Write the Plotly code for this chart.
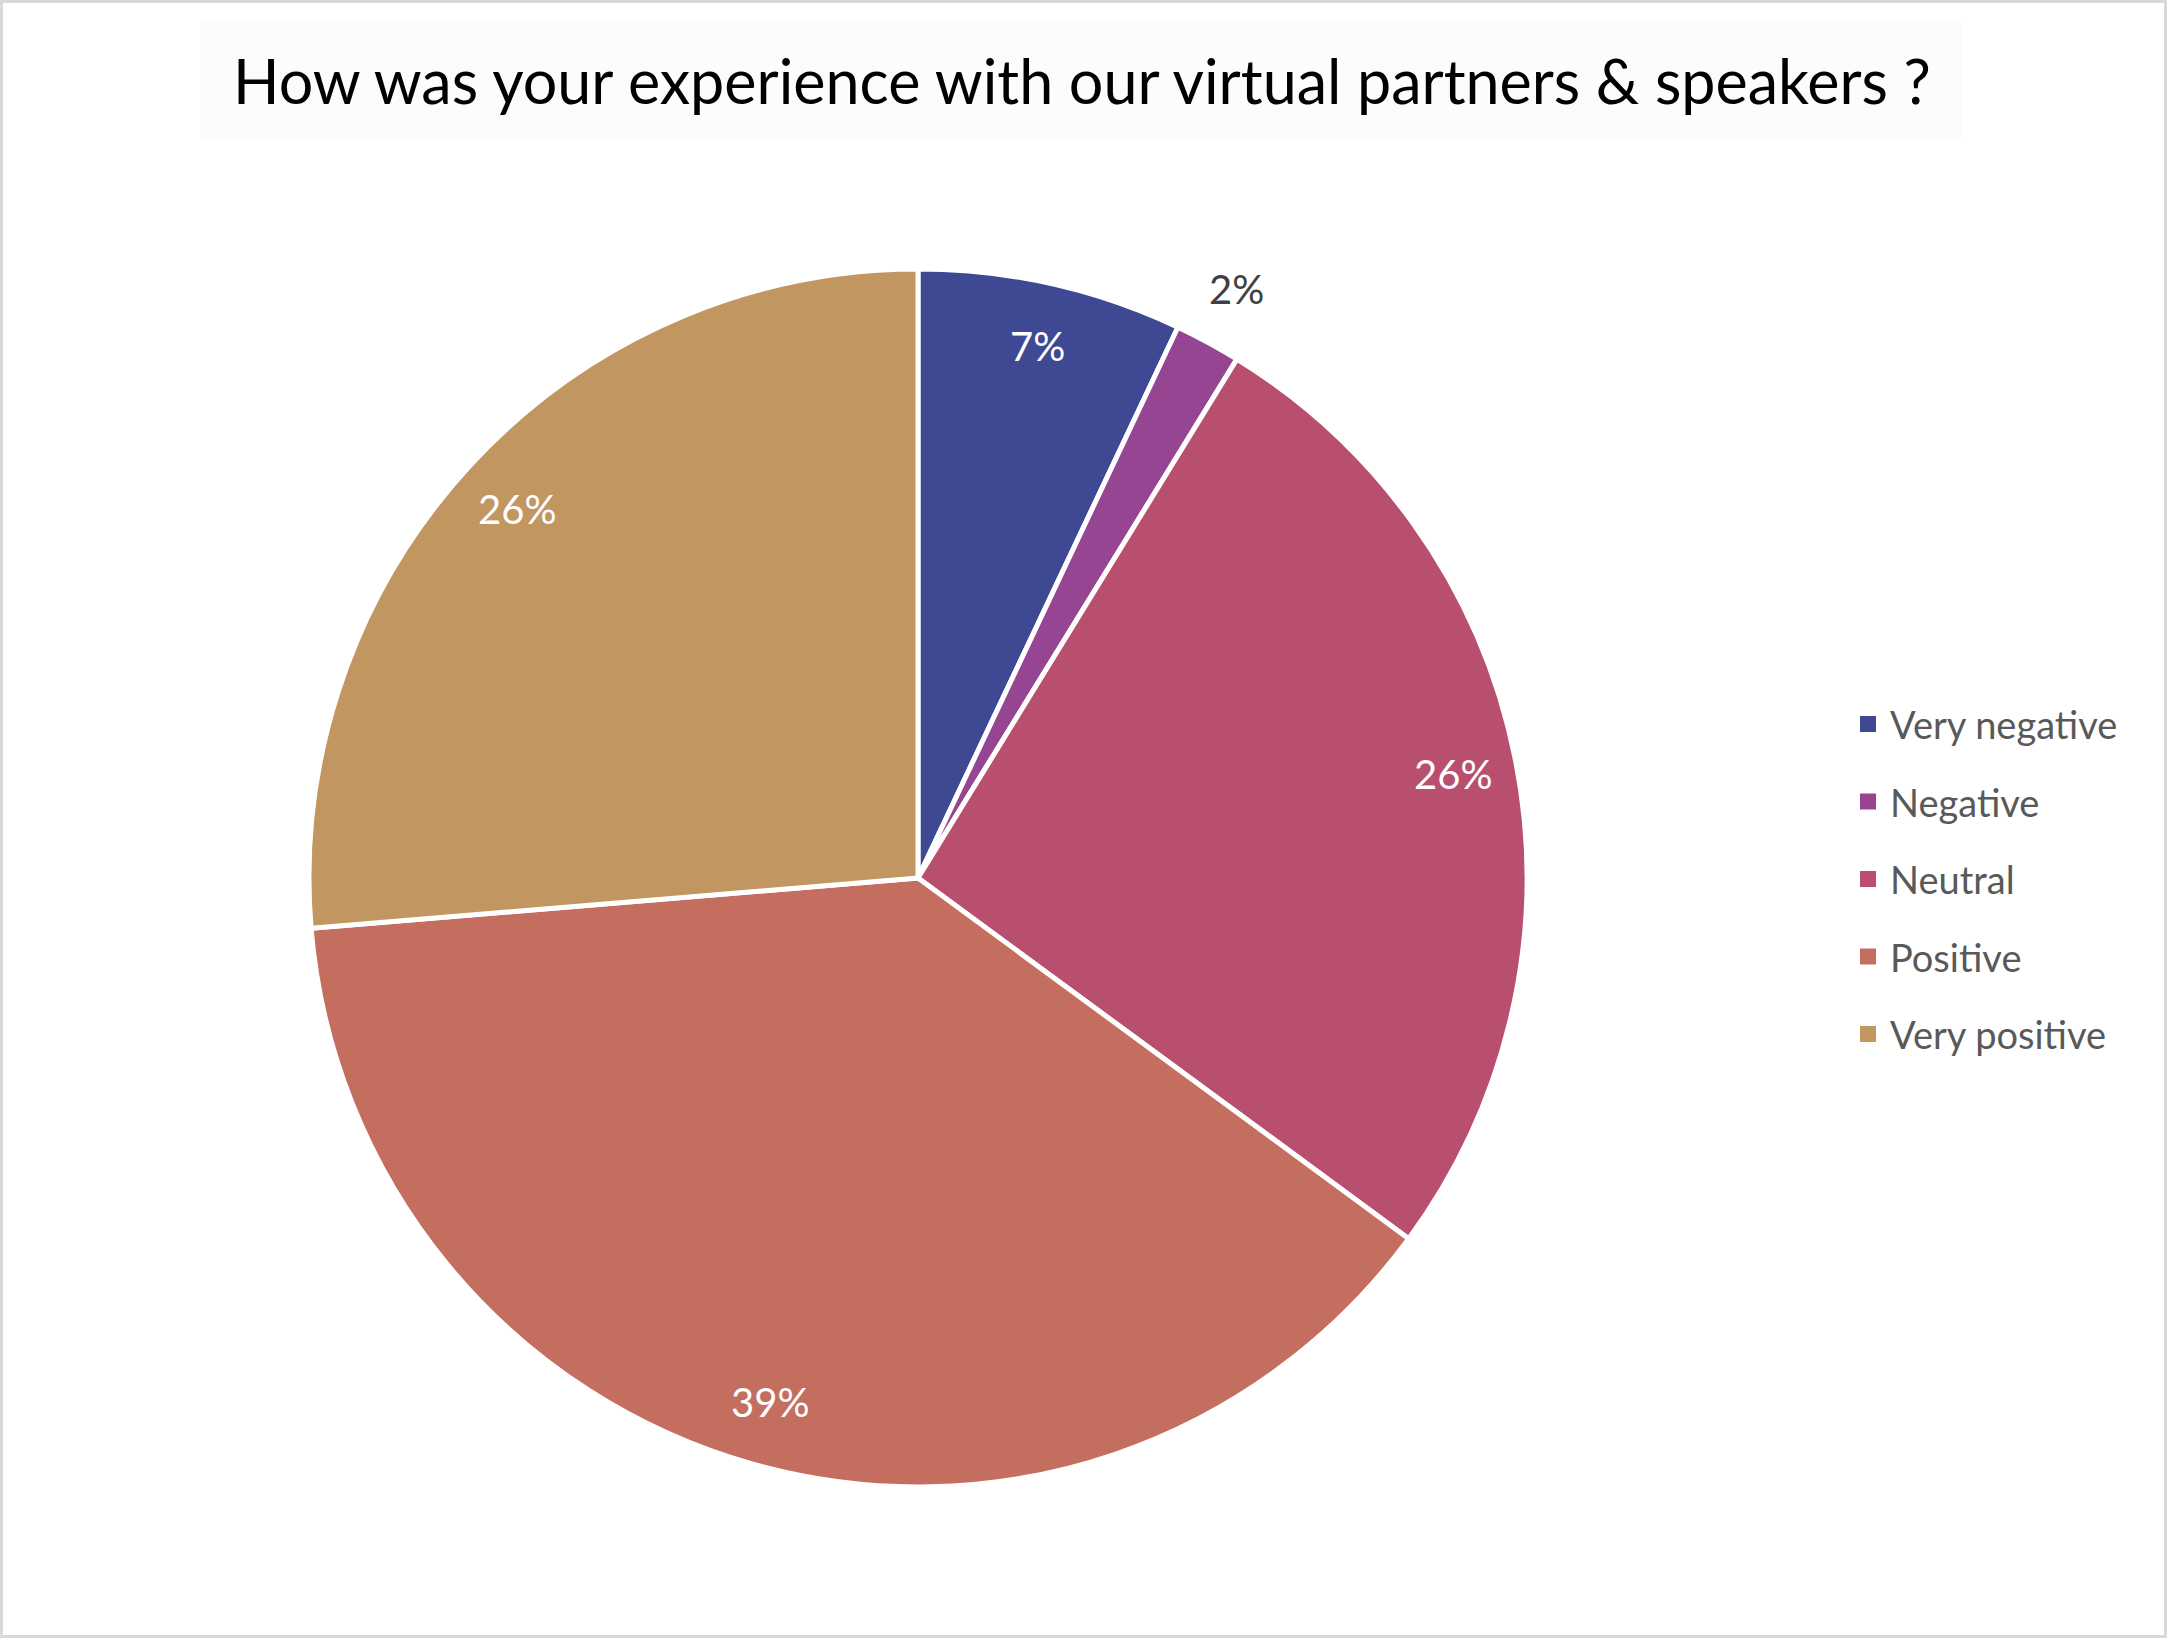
import math
import plotly.graph_objects as go

categories = ["Very negative", "Negative", "Neutral", "Positive", "Very positive"]
counts = [4, 1, 15, 22, 15]
colors = ["#3E4893", "#964592", "#B94F6E", "#C46E5F", "#C19660"]
title_text = "How was your experience with our virtual partners &amp; speakers ?"

W, H = 2167, 1638
cx, cy, R = 918, 878, 609  # pie center/radius in pixels

def px_x(x):
    return x / W

def px_y(y):
    return 1 - y / H

fig = go.Figure()
fig.add_trace(go.Pie(
    labels=categories,
    values=counts,
    sort=False,
    direction="clockwise",
    rotation=0,
    marker=dict(colors=colors, line=dict(color="white", width=5)),
    textinfo="none",
    hoverinfo="label+percent",
    showlegend=False,
    domain=dict(x=[px_x(cx - R), px_x(cx + R)], y=[px_y(cy + R), px_y(cy - R)]),
))

annotations = []
shapes = []

# percentage labels derived from data
total = sum(counts)
cum = 0
for c in counts:
    frac = c / total
    mid = (cum + frac / 2) * 2 * math.pi
    cum += frac
    small = frac < 0.05
    r = R * (1.10 if small else 0.895)
    x = cx + r * math.sin(mid)
    y = cy - r * math.cos(mid)
    annotations.append(dict(
        x=px_x(x), y=px_y(y), xref="paper", yref="paper",
        text=f"{round(frac * 100)}%", showarrow=False,
        font=dict(family="Lato", size=40, color="#404040" if small else "white"),
        xanchor="center", yanchor="middle",
    ))

# title box and text
shapes.append(dict(type="rect", xref="paper", yref="paper",
                   x0=px_x(200), x1=px_x(1962), y0=px_y(138), y1=px_y(21),
                   fillcolor="#FCFCFA", line=dict(width=0), layer="below"))
annotations.append(dict(
    x=px_x(1082), y=px_y(80), xref="paper", yref="paper",
    text=title_text, showarrow=False,
    font=dict(family="Lato", size=61, color="black"),
    xanchor="center", yanchor="middle",
))

# legend drawn manually
leg_y0, leg_dy = 724, 77.5
for i, (cat, col) in enumerate(zip(categories, colors)):
    yy = leg_y0 + i * leg_dy
    shapes.append(dict(type="rect", xref="paper", yref="paper",
                       x0=px_x(1860), x1=px_x(1876), y0=px_y(yy + 8), y1=px_y(yy - 8),
                       fillcolor=col, line=dict(width=0)))
    annotations.append(dict(
        x=px_x(1888), y=px_y(yy), xref="paper", yref="paper",
        text=cat, showarrow=False,
        font=dict(family="Lato", size=38, color="#595959"),
        xanchor="left", yanchor="middle",
    ))

# outer border
shapes.append(dict(type="rect", xref="paper", yref="paper",
                   x0=px_x(1.5), x1=px_x(W - 1.5), y0=px_y(H - 1.5), y1=px_y(1.5),
                   line=dict(color="#D9D9D9", width=3), fillcolor="rgba(0,0,0,0)"))

fig.update_layout(
    width=W, height=H,
    margin=dict(l=0, r=0, t=0, b=0),
    paper_bgcolor="white",
    plot_bgcolor="white",
    annotations=annotations,
    shapes=shapes,
    showlegend=False,
)

fig.write_html("out.html")
